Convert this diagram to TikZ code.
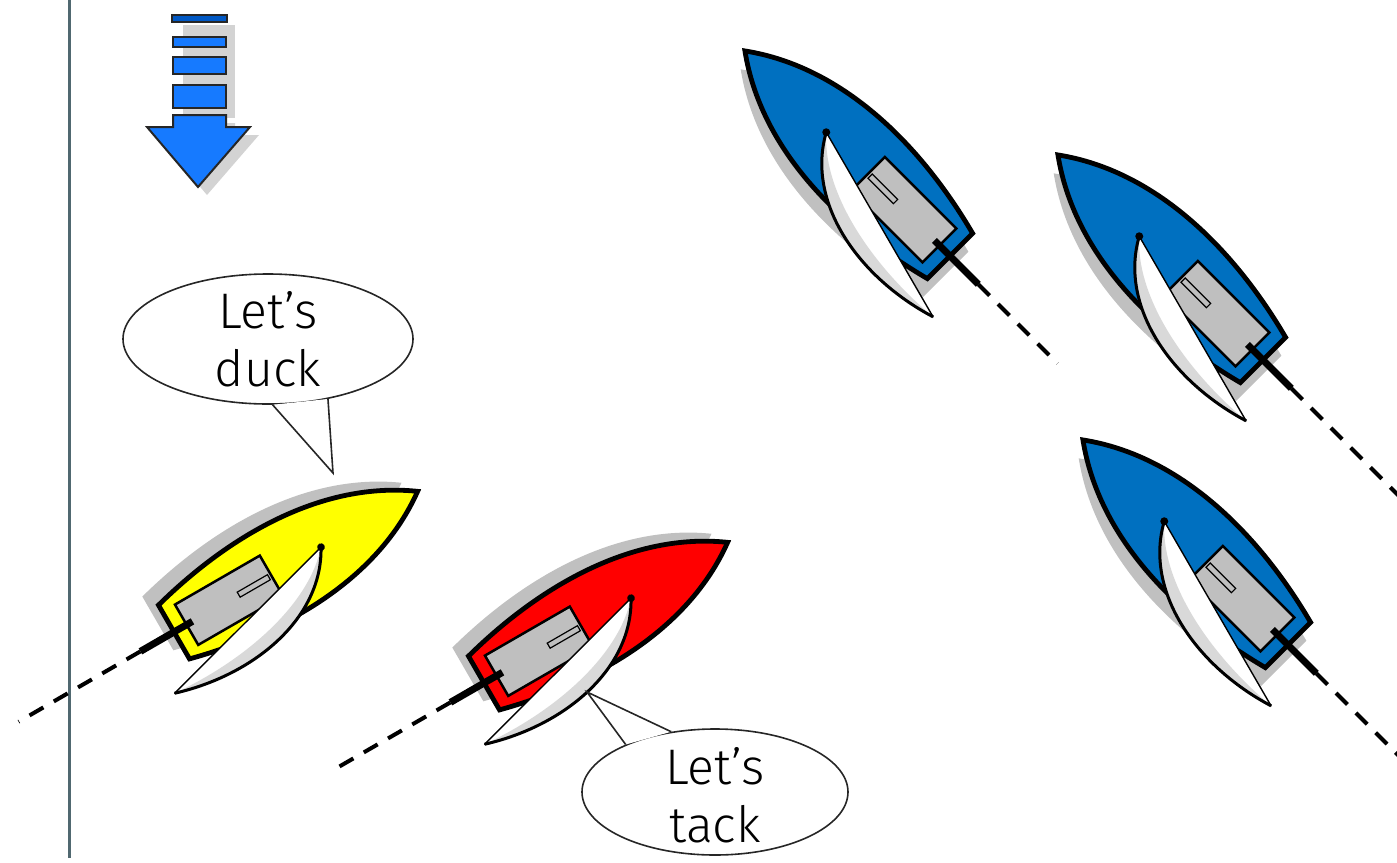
\documentclass[tikz,border=0pt]{standalone}
\usepackage{fontspec}
\setmainfont{Fira Sans Light}
\usetikzlibrary{shapes.geometric}

\definecolor{hullblue}{RGB}{0,112,192}
\definecolor{hullyellow}{RGB}{255,255,0}
\definecolor{hullred}{RGB}{255,0,0}
\definecolor{deckgray}{RGB}{191,191,191}
\definecolor{sailshade}{RGB}{217,217,217}
\definecolor{shadowgray}{RGB}{192,192,192}
\definecolor{windblue}{RGB}{22,122,255}
\definecolor{windtop}{RGB}{0,88,196}
\definecolor{markline}{RGB}{80,104,112}
\definecolor{bubbleline}{RGB}{38,38,38}

% hull outline, stern at y=0, bow pointing up
\newcommand{\hullpath}{(32,0) .. controls (58,-100) and (58,-210) .. (0,-290)
  .. controls (-58,-210) and (-58,-100) .. (-32,0) -- cycle}

\tikzset{
  hullline/.style={line width=4.8pt, line join=miter},
  deck/.style={fill=deckgray, draw=black, line width=2.5pt},
  tiller/.style={line width=7pt},
  wake/.style={line width=4pt, dash pattern=on 16pt off 12pt},
  bubble/.style={ellipse, draw=bubbleline, line width=1.6pt, fill=white, inner sep=0pt},
  talk/.style={align=center, inner sep=0pt, font=\fontsize{50}{58}\selectfont},
  windbox/.style={fill=windblue, draw=black!85, line width=2pt},
  % #1 hull colour, #2 sail side (-1 port, 1 starboard), #3 end of wake
  pics/boat/.style n args={3}{code={
    \fill[shadowgray, shift={(-16,10)}] \hullpath;
    \filldraw[fill=#1, hullline] \hullpath;
    \filldraw[deck] (-24,-15) rectangle (24,-116);
    \filldraw[fill=deckgray, line width=1.2pt] (-3,-77) rectangle (3,-113);
    \draw[tiller] (0,-22) -- (0,40);
    \draw[wake] (0,40) -- (0,#3);
    % sail
    \filldraw[fill=white, line width=1.4pt, line join=round] (0,-175)
      .. controls ({#2*64},-140) and ({#2*80},-50) .. ({#2*55},31) -- cycle;
    \fill[sailshade] (0,-175) .. controls ({#2*64},-140) and ({#2*80},-50) .. ({#2*55},31)
      .. controls ({#2*62},-50) and ({#2*45},-135) .. (0,-175);
    \draw[line width=3pt] (0,-175) .. controls ({#2*64},-140) and ({#2*80},-50) .. ({#2*55},31);
    \fill (0,-175) circle (4pt);
  }}
}

\begin{document}
\begin{tikzpicture}[x=1pt, y=-1pt]
  \useasboundingbox (0,0) rectangle (1397,862);
  \clip (0,0) rectangle (1397,862);

  % mark line
  \draw[markline, line width=3pt] (69,0) -- (69,858);

  % wind arrow
  \fill[shadowgray!70] (183,25) rectangle (235,118);
  \fill[shadowgray!70] (182,123) -- (235,123) -- (235,135) -- (259,135) -- (207,195) -- (156,135) -- (182,135) -- cycle;
  \filldraw[fill=windtop, draw=black!85, line width=2pt] (172,15) rectangle (227,22);
  \filldraw[windbox] (173,37) rectangle (226,47);
  \filldraw[windbox] (173,57) rectangle (226,74);
  \filldraw[windbox] (173,85) rectangle (226,108);
  \filldraw[windbox, line join=miter] (173,115) -- (226,115) -- (226,127) -- (250,127)
    -- (198,187) -- (147,127) -- (173,127) -- cycle;

  % boats
  \pic[rotate=45] at (950,256) {boat={hullblue}{-1}{152}};
  \pic[rotate=45] at (1263,360) {boat={hullblue}{-1}{300}};
  \pic[rotate=45] at (1288,645) {boat={hullblue}{-1}{300}};
  \pic[rotate=-60, scale=0.97] at (174,632) {boat={hullyellow}{1}{185}};
  \pic[rotate=-60, scale=0.97] at (484,683) {boat={hullred}{1}{180}};

  % speech bubbles
  \node[bubble, minimum width=290pt, minimum height=130pt] (duck) at (268,339) {};
  \coordinate (ducktip) at (333,473);
  \fill[white] (duck.-86) -- (ducktip) -- (duck.-45) -- cycle;
  \draw[bubbleline, line width=1.6pt, line join=miter] (duck.-86) -- (ducktip) -- (duck.-45);
  \node[talk] (duckText) at (268,339) {Let’s\\duck};

  \node[bubble, minimum width=266pt, minimum height=126pt] (tack) at (715,792) {};
  \coordinate (tacktip) at (587,692);
  \fill[white] (tack.152) -- (tacktip) -- (tack.126) -- cycle;
  \draw[bubbleline, line width=1.6pt, line join=miter] (tack.152) -- (tacktip) -- (tack.126);
  \node[talk] (tackText) at (715,795) {Let’s\\tack};
\end{tikzpicture}
\end{document}
